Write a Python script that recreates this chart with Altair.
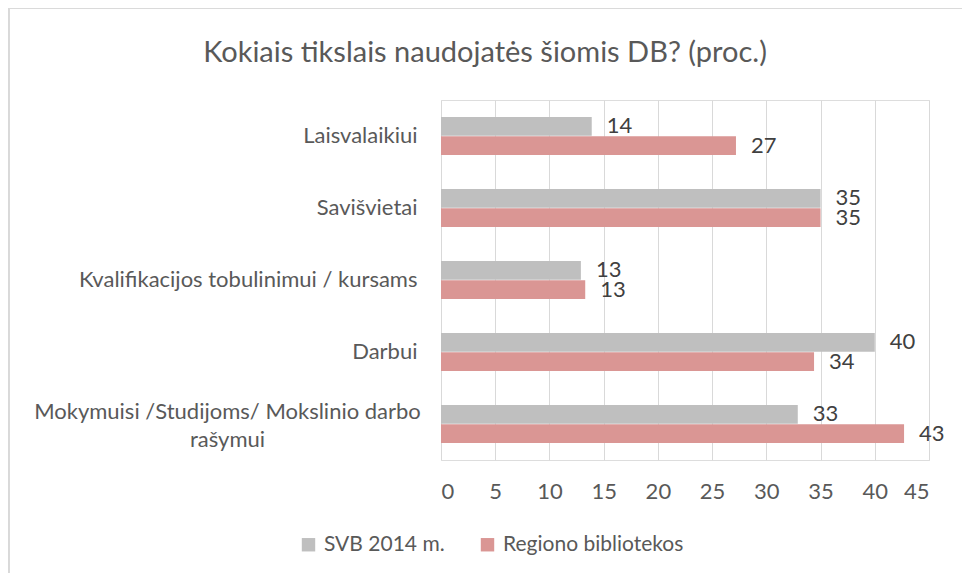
import altair as alt
import pandas as pd

categories = [
    "Laisvalaikiui",
    "Savišvietai",
    "Kvalifikacijos tobulinimui / kursams",
    "Darbui",
    "Mokymuisi /Studijoms/ Mokslinio darbo rašymui",
]
series = ["SVB 2014 m.", "Regiono bibliotekos"]
svb_values = [13.9, 35.0, 12.9, 40.0, 32.9]
regiono_values = [27.2, 35.0, 13.3, 34.4, 42.7]
colors = ["#bfbfbf", "#da9694"]

rows = []
for c, a, b in zip(categories, svb_values, regiono_values):
    rows.append({"kategorija": c, "serija": series[0], "reiksme": a})
    rows.append({"kategorija": c, "serija": series[1], "reiksme": b})
df = pd.DataFrame(rows)

FONT = "Lato"
FS = 22
long_label = categories[4]
test_long = f"datum.value == '{long_label}'"
label_expr = (
    f"{test_long} ? ['Mokymuisi /Studijoms/ Mokslinio darbo', 'rašymui'] : datum.value"
)

y_enc = alt.Y(
    "kategorija:N",
    sort=categories,
    title=None,
    scale=alt.Scale(paddingInner=0.472, paddingOuter=0.236),
    axis=alt.Axis(
        labelExpr=label_expr,
        labelFont=FONT,
        labelFontSize=FS,
        labelColor="#595959",
        labelPadding={"condition": {"test": test_long, "value": 214}, "value": 24},
        labelAlign={"condition": {"test": test_long, "value": "center"}, "value": "right"},
        labelOffset={"condition": {"test": test_long, "value": -12}, "value": 0},
        labelLimit=600,
        ticks=False,
        domain=False,
        labelLineHeight=28,
    ),
)
yoff = alt.YOffset("serija:N", sort=series, scale=alt.Scale(paddingInner=0.02))
x_enc = alt.X(
    "reiksme:Q",
    title=None,
    scale=alt.Scale(domain=[0, 45], nice=False),
    axis=alt.Axis(
        values=list(range(0, 50, 5)),
        labelFont=FONT,
        labelFontSize=FS,
        labelColor="#595959",
        labelPadding=21,
        grid=True,
        gridColor="#d9d9d9",
        gridWidth=1,
        domain=False,
        ticks=False,
    ),
)

base = alt.Chart(df)

bars = base.mark_bar().encode(
    y=y_enc,
    yOffset=yoff,
    x=x_enc,
    color=alt.Color(
        "serija:N",
        sort=series,
        scale=alt.Scale(domain=series, range=colors),
        legend=alt.Legend(
            title=None,
            orient="none",
            direction="horizontal",
            legendX=-143,
            legendY=434,
            symbolType="square",
            symbolSize=180,
            symbolStrokeWidth=0,
            labelFont=FONT,
            labelFontSize=21,
            labelColor="#595959",
            labelOffset=5,
            labelLimit=400,
            columnPadding=32,
            symbolOffset=0,
        ),
    ),
)

labels = base.mark_text(
    align="left", baseline="middle", dx=15, font=FONT, fontSize=FS, color="#404040"
).encode(
    y=alt.Y("kategorija:N", sort=categories),
    yOffset=yoff,
    x=alt.X("reiksme:Q"),
    text=alt.Text("reiksme:Q", format=".0f"),
)

border = base.mark_rect(fill=None, stroke="#d9d9d9", strokeWidth=1).encode(
    x=alt.value(-432), x2=alt.value(528), y=alt.value(-92), y2=alt.value(490)
)

chart = (
    alt.layer(bars, labels, border)
    .properties(
        width=488,
        height=360,
        autosize=alt.AutoSizeParams(type="none"),
        padding={"left": 433, "top": 92, "right": 33, "bottom": 113},
        title=alt.TitleParams(
            "Kokiais tikslais naudojatės šiomis DB? (proc.)",
            font=FONT,
            fontSize=29,
            fontWeight="normal",
            color="#595959",
            anchor="middle",
            dx=-200,
            offset=-60,
        ),
    )
    .configure_view(stroke=None)
    .configure(background="white")
)

chart.save("out.html", embed_options={"renderer": "svg", "actions": False})
